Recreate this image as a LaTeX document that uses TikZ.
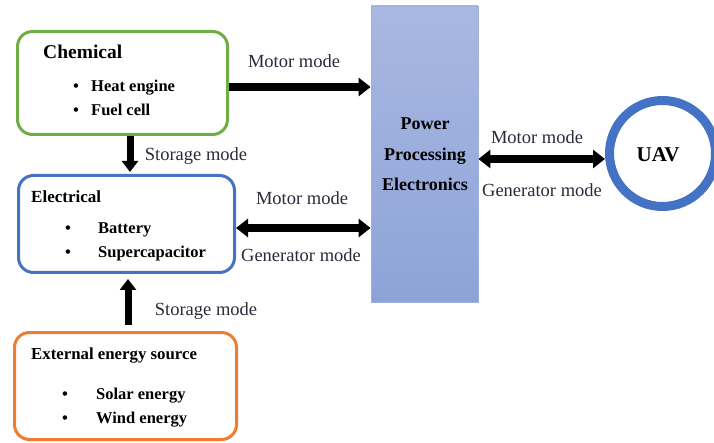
\documentclass[tikz,border=0pt]{standalone}
\usepackage{fontspec}
\setmainfont{Liberation Serif}
\usetikzlibrary{arrows.meta,shapes.geometric}
\definecolor{cgreen}{HTML}{70AD47}
\definecolor{cblue}{HTML}{4472C4}
\definecolor{corange}{HTML}{ED7D31}
\definecolor{ppetop}{HTML}{A9B8E1}
\definecolor{ppebot}{HTML}{8DA3D8}
\definecolor{ppeline}{HTML}{9DB0DF}
\definecolor{lbl}{HTML}{2A2A3A}
\tikzset{
  box/.style={draw, rounded corners=15pt, line width=3pt, fill=white},
  lab/.style={anchor=base, text=lbl, font=\fontsize{18.5}{20}\selectfont, inner sep=0pt},
  ttl/.style={anchor=base west, font=\bfseries\fontsize{17}{20}\selectfont, inner sep=0pt},
  itm/.style={anchor=base west, font=\bfseries\fontsize{16.5}{20}\selectfont, inner sep=0pt},
  bul/.style={anchor=base, font=\bfseries\fontsize{16.5}{20}\selectfont, inner sep=0pt},
  arr/.style={line width=8pt, -{Triangle[width=18pt,length=12pt]}},
  darr/.style={line width=8pt, {Triangle[width=18pt,length=12pt]}-{Triangle[width=18pt,length=12pt]}},
  varr/.style={line width=7pt, -{Triangle[width=16pt,length=11pt]}}
}
\begin{document}
\begin{tikzpicture}[x=1pt,y=-1pt]
\useasboundingbox (0,0) rectangle (714,443);
% boxes
\node[box, draw=cgreen, minimum width=210pt, minimum height=103pt] (chem) at (122.5,83) {};
\node[box, draw=cblue, minimum width=216pt, minimum height=97pt] (elec) at (126.5,224) {};
\node[box, draw=corange, minimum width=222pt, minimum height=107pt] (ext) at (125.5,386) {};
\node[draw=ppeline, line width=0.8pt, top color=ppetop, bottom color=ppebot, minimum width=107pt, minimum height=296pt, inner sep=0pt] (ppe) at (424.5,154) {};
\node[circle, draw=cblue, line width=9pt, minimum size=106pt, inner sep=0pt] (uav) at (662.5,153.5) {};
% box texts
\node[ttl, font=\bfseries\fontsize{19.5}{22}\selectfont] (tchem) at (43,59) {Chemical};
\node[bul] (b1) at (76,92) {•};
\node[itm] (t1) at (91,92) {Heat engine};
\node[bul] (b2) at (76,116) {•};
\node[itm] (t2) at (91,116) {Fuel cell};
\node[ttl] (telec) at (31,203) {Electrical};
\node[bul] (b3) at (68,234) {•};
\node[itm] (t3) at (98,234) {Battery};
\node[bul] (b4) at (68,258) {•};
\node[itm] (t4) at (98,258) {Supercapacitor};
\node[ttl, font=\bfseries\fontsize{16.8}{20}\selectfont] (text) at (31,359) {External energy source};
\node[bul] (b5) at (65,399) {•};
\node[itm] (t5) at (96,399) {Solar energy};
\node[bul] (b6) at (65,423) {•};
\node[itm] (t6) at (96,423) {Wind energy};
\node[anchor=base, font=\bfseries\fontsize{18}{20}\selectfont, inner sep=0pt] (p1) at (425,130) {Power};
\node[anchor=base, font=\bfseries\fontsize{18}{20}\selectfont, inner sep=0pt] (p2) at (425,161) {Processing};
\node[anchor=base, font=\bfseries\fontsize{18}{20}\selectfont, inner sep=0pt] (p3) at (425,191) {Electronics};
\node[anchor=base, font=\bfseries\fontsize{21}{24}\selectfont, inner sep=0pt] (tuav) at (658,162) {UAV};
% connectors
\draw[arr] ([yshift=-4pt]chem.east) -- ([yshift=-4pt]chem.east -| ppe.west);
\draw[varr, shorten >=2pt] ([xshift=7.5pt]chem.south) -- ([xshift=7.5pt]chem.south |- elec.north);
\draw[varr, shorten >=5pt, shorten <=6pt] ([xshift=2.5pt]ext.north) -- ([xshift=2.5pt]ext.north |- elec.south);
\draw[darr] ([yshift=-4pt]elec.east) -- ([yshift=-4pt]elec.east -| ppe.west);
\draw[darr] ([yshift=-5.5pt]uav.west -| ppe.east) -- ([yshift=-5.5pt]uav.west);
% labels
\node[lab] (l1) at (294,68) {Motor mode};
\node[lab] (l2) at (196,161) {Storage mode};
\node[lab] (l3) at (302,205) {Motor mode};
\node[lab] (l4) at (301,262) {Generator mode};
\node[lab] (l5) at (206,316) {Storage mode};
\node[lab] (l6) at (537,144) {Motor mode};
\node[lab] (l7) at (542,197) {Generator mode};
\end{tikzpicture}
\end{document}
